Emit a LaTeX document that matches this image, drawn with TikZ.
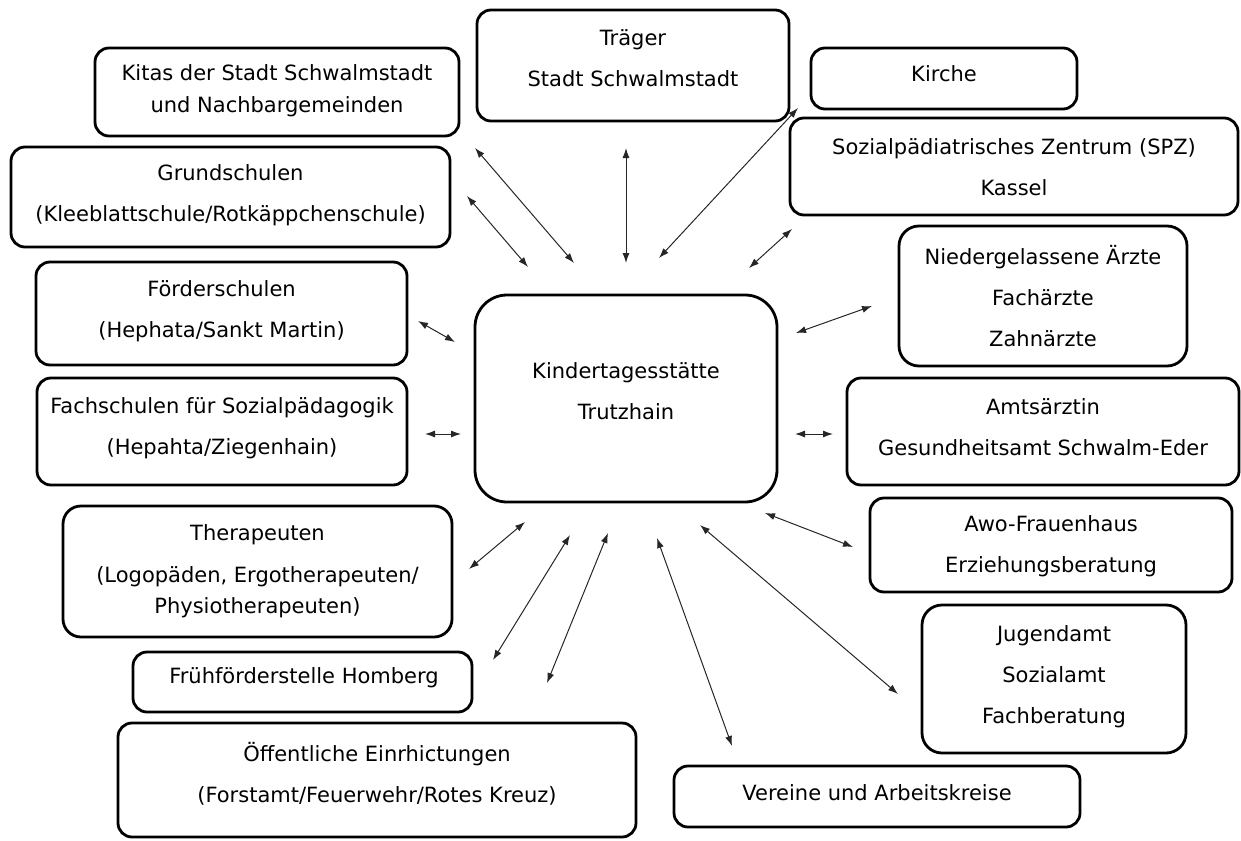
\documentclass[tikz,border=0pt]{standalone}
\usepackage{fontspec}
\setmainfont{DejaVu Sans}
\usetikzlibrary{arrows.meta}
\begin{document}
\begin{tikzpicture}[x=1pt,y=-1pt,
  box/.style={draw=black, line width=2.8pt, rounded corners=14pt, inner sep=0pt},
  txt/.style={align=center, inner sep=0pt, font=\fontsize{21}{41}\selectfont},
  txtnarrow/.style={align=center, inner sep=0pt, font=\fontsize{21}{32}\selectfont},
  link/.style={line width=1pt, draw=black!85, {Latex[length=10pt,width=7pt]}-{Latex[length=10pt,width=7pt]}}]
\useasboundingbox (0,0) rectangle (1241,840);

% boxes
\node[box, minimum width=364pt, minimum height=88pt]  (kitas)   at (277,92)     {};
\node[box, minimum width=312pt, minimum height=111pt] (traeger) at (633,65.5)   {};
\node[box, minimum width=266pt, minimum height=61pt]  (kirche)  at (944,78.5)   {};
\node[box, minimum width=448pt, minimum height=97pt]  (spz)     at (1014,166.5) {};
\node[box, minimum width=439pt, minimum height=100pt] (grund)   at (230.5,197)  {};
\node[box, minimum width=371pt, minimum height=103pt] (foerder) at (221.5,313.5) {};
\node[box, rounded corners=20pt, minimum width=288pt, minimum height=140pt] (nieder) at (1043,296) {};
\node[box, rounded corners=32pt, minimum width=302pt, minimum height=207pt] (kita) at (626,398.5) {};
\node[box, minimum width=370pt, minimum height=107pt] (fach)    at (222,431.5)  {};
\node[box, minimum width=392pt, minimum height=107pt] (amts)    at (1043,431.5) {};
\node[box, rounded corners=18pt, minimum width=389pt, minimum height=131pt] (thera) at (257.5,571.5) {};
\node[box, minimum width=362pt, minimum height=94pt]  (awo)     at (1051,545)   {};
\node[box, rounded corners=20pt, minimum width=264pt, minimum height=148pt] (jugend) at (1054,679) {};
\node[box, minimum width=339pt, minimum height=60pt]  (frueh)   at (302.5,682)  {};
\node[box, minimum width=518pt, minimum height=114pt] (oeff)    at (377,780)    {};
\node[box, minimum width=406pt, minimum height=61pt]  (vereine) at (877,796.5)  {};

% texts
\node[txtnarrow] (kitas-t) at (277,91) {Kitas der Stadt Schwalmstadt\\und Nachbargemeinden};
\node[txt] (traeger-t) at (633,58) {Träger\\Stadt Schwalmstadt};
\node[txt] (kirche-t) at (944,74) {Kirche};
\node[txt] (spz-t) at (1014,167.5) {Sozialpädiatrisches Zentrum (SPZ)\\Kassel};
\node[txt] (grund-t) at (230.5,195.5) {Grundschulen\\(Kleeblattschule/Rotkäppchenschule)};
\node[txt] (foerder-t) at (221.5,311.5) {Förderschulen\\(Hephata/Sankt Martin)};
\node[txt] (nieder-t) at (1043,296) {Niedergelassene Ärzte\\Fachärzte\\Zahnärzte};
\node[txt] (kita-t) at (626,391) {Kindertagesstätte\\Trutzhain};
\node[txt] (fach-t) at (222,428) {Fachschulen für Sozialpädagogik\\(Hepahta/Ziegenhain)};
\node[txt] (amts-t) at (1043,427.5) {Amtsärztin\\Gesundheitsamt Schwalm-Eder};
\node[txtnarrow, font=\fontsize{21}{31}\selectfont] (thera-t) at (257.5,571.5) {Therapeuten\\[11pt](Logopäden, Ergotherapeuten/\\Physiotherapeuten)};
\node[txt] (awo-t) at (1051,546) {Awo-Frauenhaus\\Erziehungsberatung};
\node[txt] (jugend-t) at (1054,676.5) {Jugendamt\\Sozialamt\\Fachberatung};
\node[txt] (frueh-t) at (304,678) {Frühförderstelle Homberg};
\node[txt] (oeff-t) at (377,773.5) {Öffentliche Einrhictungen\\(Forstamt/Feuerwehr/Rotes Kreuz)};
\node[txt] (vereine-t) at (877,793) {Vereine und Arbeitskreise};

% arrow end points
\coordinate (kitas-a)   at (475,148); \coordinate (kitas-b)   at (574,263);
\coordinate (grund-a)   at (467,196); \coordinate (grund-b)   at (528,267);
\coordinate (traeger-a) at (626,148); \coordinate (traeger-b) at (626,263);
\coordinate (kirche-a)  at (798,108); \coordinate (kirche-b)  at (659,258);
\coordinate (spz-a)     at (792,229); \coordinate (spz-b)     at (749,268);
\coordinate (foerder-a) at (418,321); \coordinate (foerder-b) at (455,342);
\coordinate (fach-a)    at (425,434); \coordinate (fach-b)    at (461,434);
\coordinate (nieder-a)  at (872,306); \coordinate (nieder-b)  at (796,333);
\coordinate (amts-a)    at (833,434); \coordinate (amts-b)    at (795,434);
\coordinate (thera-a)   at (469,569); \coordinate (thera-b)   at (525,522);
\coordinate (frueh-a)   at (493,660); \coordinate (frueh-b)   at (570,535);
\coordinate (oeff-a)    at (547,683); \coordinate (oeff-b)    at (608,533);
\coordinate (vereine-a) at (732,746); \coordinate (vereine-b) at (657,538);
\coordinate (jugend-a)  at (898,694); \coordinate (jugend-b)  at (700,525);
\coordinate (awo-a)     at (853,547); \coordinate (awo-b)     at (765,513);

\foreach \n in {kitas,grund,traeger,kirche,spz,foerder,fach,nieder,amts,thera,frueh,oeff,vereine,jugend,awo}
  \draw[link] (\n-a) -- (\n-b);
\end{tikzpicture}
\end{document}
